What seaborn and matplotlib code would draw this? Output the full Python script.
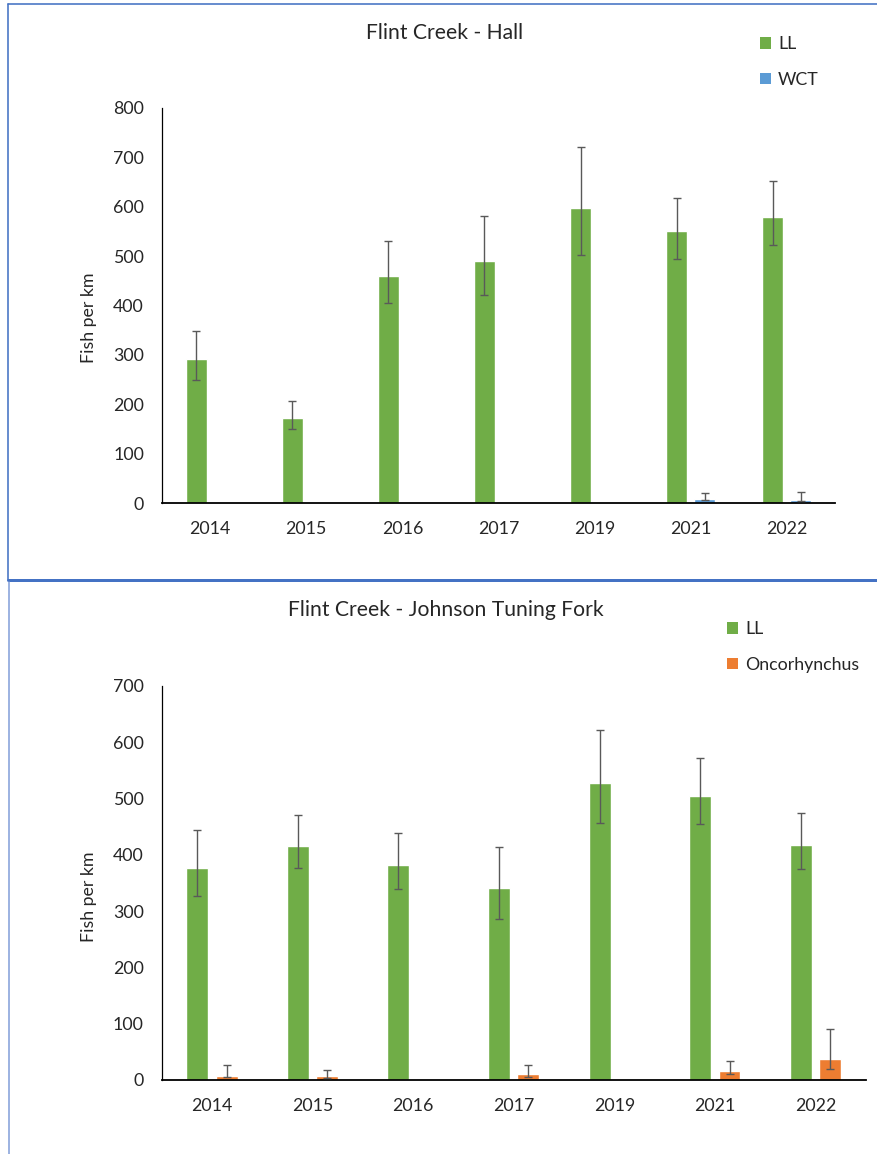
import numpy as np
import pandas as pd
import matplotlib
matplotlib.use("Agg")
import matplotlib.pyplot as plt
from matplotlib.lines import Line2D
from matplotlib.patches import Patch
import seaborn as sns

# ---- data -------------------------------------------------------------
years = ["2014", "2015", "2016", "2017", "2019", "2021", "2022"]

# Flint Creek - Hall
hall_ll = [291, 173, 460, 491, 598, 551, 580]
hall_ll_lo = [249, 150, 405, 422, 502, 495, 523]
hall_ll_hi = [349, 207, 530, 581, 721, 618, 652]
hall_wct = [0, 0, 0, 0, 0, 9, 7]
hall_wct_lo = [np.nan, np.nan, np.nan, np.nan, np.nan, 6, 4]
hall_wct_hi = [np.nan, np.nan, np.nan, np.nan, np.nan, 20, 23]

# Flint Creek - Johnson Tuning Fork
jtf_ll = [377, 415, 381, 340, 528, 505, 418]
jtf_ll_lo = [327, 376, 339, 286, 456, 455, 375]
jtf_ll_hi = [444, 470, 438, 414, 621, 572, 474]
jtf_onc = [7, 7, 0, 10, 0, 16, 37]
jtf_onc_lo = [5, 3, np.nan, 6, np.nan, 11, 19]
jtf_onc_hi = [26, 17, np.nan, 27, np.nan, 34, 91]

GREEN = "#70AD47"
BLUE = "#5B9BD5"
ORANGE = "#ED7D31"
ERR = "#595959"
FRAME = "#4472C4"
TXT = "#262626"
FS = 12.8

sns.set_style("white")
plt.rcParams["font.family"] = ["Lato", "DejaVu Sans"]

W, H = 877, 1154
fig = plt.figure(figsize=(W / 100, H / 100), dpi=100)


def fx(px):
    return px / W


def fy(py):
    return 1 - py / H


def panel(rect, title, title_xy, second, s1, s1_lo, s1_hi, s2, s2_lo, s2_hi,
          color2, ymax, ylab_xy, legend_xy):
    ax = fig.add_axes(rect)
    df = pd.DataFrame({
        "year": years * 2,
        "density": list(s1) + list(s2),
        "species": ["LL"] * len(years) + [second] * len(years),
    })
    sns.barplot(data=df, x="year", y="density", hue="species",
                hue_order=["LL", second], palette=[GREEN, color2],
                width=0.584, gap=0.253, errorbar=None, legend=False,
                saturation=1, ax=ax)

    lows = {"LL": s1_lo, second: s2_lo}
    highs = {"LL": s1_hi, second: s2_hi}
    vals = {"LL": s1, second: s2}
    for p in ax.patches:
        xc = p.get_x() + p.get_width() / 2
        i = int(round(xc))
        sp = "LL" if xc < i else second
        lo, hi, v = lows[sp][i], highs[sp][i], vals[sp][i]
        if np.isnan(lo):
            continue
        ax.errorbar([xc], [v], yerr=[[v - lo], [hi - v]], fmt="none",
                    ecolor=ERR, elinewidth=1.0, capsize=2.7, capthick=1.0,
                    zorder=5)

    ax.set_ylim(0, ymax)
    ax.set_xlim(-0.5, len(years) - 0.5)
    ax.set_yticks(np.arange(0, ymax + 1, 100))
    ax.tick_params(axis="both", length=0, labelsize=FS, colors=TXT)
    ax.tick_params(axis="y", pad=13)
    ax.tick_params(axis="x", pad=13)
    ax.set_xlabel("")
    ax.set_ylabel("Fish per km", fontsize=FS, color=TXT)
    ax.yaxis.set_label_coords(*ylab_xy)
    for s in ["top", "right"]:
        ax.spines[s].set_visible(False)
    ax.spines["left"].set_color("#000000")
    ax.spines["left"].set_linewidth(0.9)
    ax.spines["bottom"].set_color("#000000")
    ax.spines["bottom"].set_linewidth(1.3)
    ax.grid(False)

    fig.text(fx(title_xy[0]), fy(title_xy[1]), title, ha="center",
             va="center", fontsize=15.2, color=TXT)
    handles = [Patch(facecolor=GREEN, edgecolor="none"),
               Patch(facecolor=color2, edgecolor="none")]
    fig.legend(handles, ["LL", second], loc="upper left",
               bbox_to_anchor=(fx(legend_xy[0]), fy(legend_xy[1])),
               frameon=False, fontsize=FS, handlelength=0.62,
               handleheight=0.62, handletextpad=0.4, labelspacing=1.1,
               borderpad=0, borderaxespad=0, labelcolor=TXT)
    return ax


# upper panel
panel([fx(162), fy(503), fx(835) - fx(162), fy(108) - fy(503)],
      "Flint Creek - Hall", (445, 33), "WCT",
      hall_ll, hall_ll_lo, hall_ll_hi, hall_wct, hall_wct_lo, hall_wct_hi,
      BLUE, 800, (-0.097, 0.47), (760, 36))

# lower panel
panel([fx(161.7), fy(1080), fx(865.7) - fx(161.7), fy(685.7) - fy(1080)],
      "Flint Creek - Johnson Tuning Fork", (446, 610), "Oncorhynchus",
      jtf_ll, jtf_ll_lo, jtf_ll_hi, jtf_onc, jtf_onc_lo, jtf_onc_hi,
      ORANGE, 700, (-0.092, 0.464), (727, 621))

# panel frames
lw_px = 1.0 / (100 / 72)
fig.add_artist(Line2D([fx(8), fx(877)], [fy(4), fy(4)], color=FRAME,
                      lw=1.6 * lw_px, transform=fig.transFigure))
fig.add_artist(Line2D([fx(8), fx(8)], [fy(4), fy(580)], color=FRAME,
                      lw=1.6 * lw_px, transform=fig.transFigure))
fig.add_artist(Line2D([fx(8), fx(877)], [fy(580), fy(580)], color=FRAME,
                      lw=3 * lw_px, transform=fig.transFigure))
fig.add_artist(Line2D([fx(9), fx(9)], [fy(582), fy(1154)], color="#7E9CD8",
                      lw=1.5 * lw_px, transform=fig.transFigure))

fig.savefig("out.png", dpi=100, facecolor="white")
